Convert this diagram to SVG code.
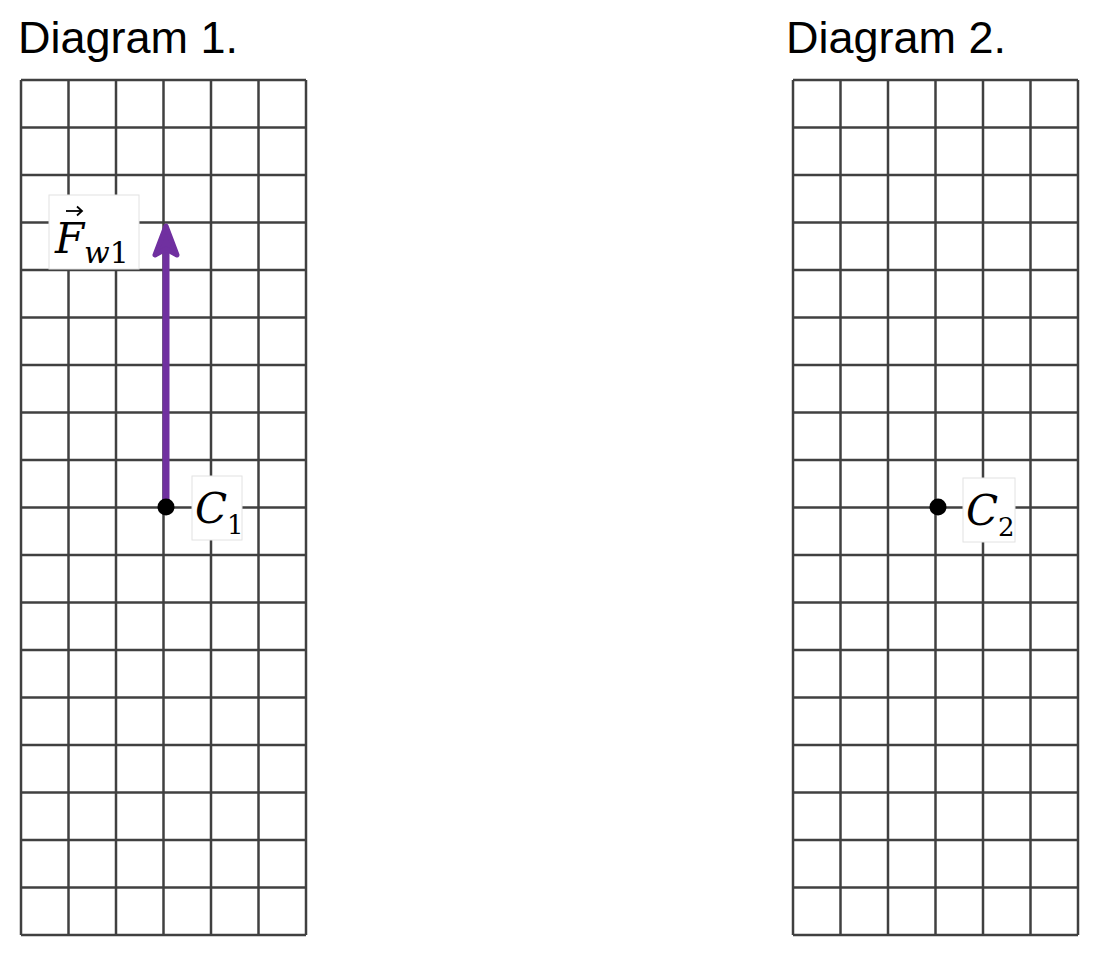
<svg xmlns="http://www.w3.org/2000/svg" width="1099" height="956" viewBox="0 0 1099 956">
<style>
.grid line{stroke:#404040;stroke-width:2.5}
.title{font-family:"Liberation Sans",Arial,sans-serif;font-size:45px;fill:#000}
.math{font-family:"DejaVu Serif","Liberation Serif",serif;font-style:italic;fill:#000}
.sub{font-family:"DejaVu Serif","Liberation Serif",serif;fill:#000}
.lbl{fill:#fff;stroke:#e2e2e2;stroke-width:1}
</style>
<defs>
<g id="gridpat" class="grid">
<line x1="0" y1="0" x2="0" y2="855"/>
<line x1="47.5" y1="0" x2="47.5" y2="855"/>
<line x1="95" y1="0" x2="95" y2="855"/>
<line x1="142.5" y1="0" x2="142.5" y2="855"/>
<line x1="190" y1="0" x2="190" y2="855"/>
<line x1="237.5" y1="0" x2="237.5" y2="855"/>
<line x1="285" y1="0" x2="285" y2="855"/>
<line x1="0" y1="0" x2="285" y2="0"/>
<line x1="0" y1="47.5" x2="285" y2="47.5"/>
<line x1="0" y1="95" x2="285" y2="95"/>
<line x1="0" y1="142.5" x2="285" y2="142.5"/>
<line x1="0" y1="190" x2="285" y2="190"/>
<line x1="0" y1="237.5" x2="285" y2="237.5"/>
<line x1="0" y1="285" x2="285" y2="285"/>
<line x1="0" y1="332.5" x2="285" y2="332.5"/>
<line x1="0" y1="380" x2="285" y2="380"/>
<line x1="0" y1="427.5" x2="285" y2="427.5"/>
<line x1="0" y1="475" x2="285" y2="475"/>
<line x1="0" y1="522.5" x2="285" y2="522.5"/>
<line x1="0" y1="570" x2="285" y2="570"/>
<line x1="0" y1="617.5" x2="285" y2="617.5"/>
<line x1="0" y1="665" x2="285" y2="665"/>
<line x1="0" y1="712.5" x2="285" y2="712.5"/>
<line x1="0" y1="760" x2="285" y2="760"/>
<line x1="0" y1="807.5" x2="285" y2="807.5"/>
<line x1="0" y1="855" x2="285" y2="855"/>
</g>
</defs>
<rect width="1099" height="956" fill="#fff"/>
<g id="diagram1">
<text class="title" x="18" y="53">Diagram 1.</text>
<use href="#gridpat" x="21" y="80"/>
</g>
<g id="diagram2">
<text class="title" x="786" y="53">Diagram 2.</text>
<use href="#gridpat" x="793" y="80"/>
</g>
<g id="connectors">
<line x1="166" y1="507" x2="166" y2="250" stroke="#7030A0" stroke-width="7"/>
<polygon points="166,226 155,255 166,249 177,255" fill="#7030A0" stroke="#7030A0" stroke-width="5" stroke-linejoin="round"/>
</g>
<g id="label-fw1">
<rect class="lbl" x="49" y="195" width="90" height="74"/>
<text class="math" x="55" y="253" font-size="42">F</text>
<text class="sub" x="84" y="263" font-size="30"><tspan font-style="italic">w</tspan>1</text>
<line x1="66" y1="211" x2="81" y2="211" stroke="#000" stroke-width="1.8"/>
<path d="M77 206.5 L82 211 L77 215.5" fill="none" stroke="#000" stroke-width="1.8"/>
</g>
<g id="point-c1">
<circle cx="166" cy="507" r="8.5" fill="#000"/>
<rect class="lbl" x="192" y="476" width="50" height="64"/>
<text class="math" x="195" y="523" font-size="42">C</text>
<text class="sub" x="227" y="534" font-size="26">1</text>
</g>
<g id="point-c2">
<circle cx="938" cy="507" r="8.5" fill="#000"/>
<rect class="lbl" x="963" y="478" width="52" height="64"/>
<text class="math" x="966" y="525" font-size="42">C</text>
<text class="sub" x="998" y="536" font-size="26">2</text>
</g>
</svg>
